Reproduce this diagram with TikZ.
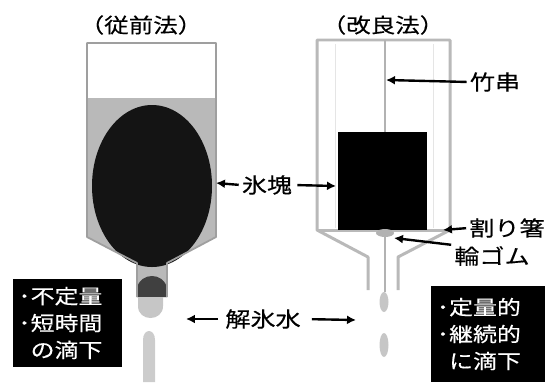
\documentclass[tikz,border=0pt]{standalone}
\usepackage{fontspec}
\setmainfont{Noto Sans CJK JP}[FakeStretch=1.2, FakeBold=0.3]
\usetikzlibrary{arrows.meta}

\tikzset{
  lbl/.style={font=\fontsize{21}{24}\selectfont, inner sep=1pt},
  ttl/.style={font=\fontsize{20.5}{24}\selectfont, inner sep=1pt},
  tag/.style={fill=black, text=white, font=\fontsize{20}{27}\selectfont, align=left, inner sep=0pt},
  arr/.style={-{Latex[length=9pt,width=9pt]}, line width=2.4pt},
  wall/.style={draw=gray!75, line width=1.8pt, line join=round},
  twin/.style={draw=gray!55, line width=3pt, line join=round},
  drop/.style={fill=gray!45},
}

\begin{document}
\begin{tikzpicture}[x=1bp, y=-1bp]
  \useasboundingbox (0,0) rectangle (547,382);

  % --- (従前法) ---
  \node[ttl] (oldT) at (141,25) {（従前法）};
  % water
  \fill[gray!55] (88,98) -- (215,98) -- (215,237) -- (166,263) -- (166,297) -- (138,297) -- (138,263) -- (88,237) -- cycle;
  % ice
  \fill[black!92] (152,186) ellipse [x radius=60, y radius=81];
  % blob in the neck
  \fill[black!75] (137,297) -- (137,288) .. controls (140,272) and (164,272) .. (167,288) -- (167,297) -- cycle;
  \fill[gray!45] (138,297) -- (163,297) -- (163,306) .. controls (163,322) and (138,322) .. (138,306) -- cycle;
  \fill[gray!40] (143,340) .. controls (143,328) and (155,328) .. (155,340) -- (155,382) -- (143,382) -- cycle;
  % container
  \draw[wall] (137,297) -- (137,263) -- (87,237) -- (87,43) -- (216,43) -- (216,237) -- (167,263) -- (167,297);
  \node[tag, minimum width=109, minimum height=88, text width=98] (oldTag) at (67.5,323)
    {･不定量\\･短時間\\\hphantom{･}の滴下};

  % --- (改良法) ---
  \node[ttl] (newT) at (383,25) {（改良法）};
  \draw[gray!20, line width=0.8pt] (335,44) -- (335,228) (433,44) -- (433,228);
  \draw[twin] (368,290) -- (368,257) -- (317,230) -- (317,40) -- (450,40) -- (450,230) -- (398,257) -- (398,290);
  \draw[twin] (317,230) -- (450,230);
  % skewer
  \draw[gray!60, line width=1.2pt] (385,40) -- (385,292);
  \fill[black] (338,132) rectangle (427,230);
  \fill[gray!60] (385,233) ellipse [x radius=9, y radius=4];
  \fill[drop] (384,302) ellipse [x radius=4.5, y radius=10];
  \fill[drop] (384,345) ellipse [x radius=4.5, y radius=12];
  \node[tag, minimum width=114, minimum height=97, text width=102] (newTag) at (488,334)
    {･定量的\\･継続的\\\hphantom{･}に滴下};

  % labels and pointers
  \coordinate (iceL) at (216,183);
  \coordinate (iceR) at (336,186);
  \coordinate (skewer) at (386,80);
  \coordinate (chop) at (443,230);
  \coordinate (band) at (394,238);
  \coordinate (meltL) at (186,319);
  \coordinate (meltR) at (356,320);

  \node[lbl] (ice) at (267,185) {氷塊};
  \node[lbl] (stick) at (495,82) {竹串};
  \node[lbl] (hashi) at (507,228) {割り箸};
  \node[lbl] (gomu) at (492,256) {輪ゴム};
  \node[lbl] (melt) at (263,319) {解氷水};

  \draw[arr, shorten <=2pt] (ice.west) -- (iceL);
  \draw[arr, shorten <=4pt] (ice.east) -- (iceR);
  \draw[arr, shorten <=2pt] (stick.west) -- (skewer);
  \draw[arr, shorten <=2pt] (hashi.west) -- (chop);
  \draw[arr, shorten <=2pt] (gomu.north west) -- (band);
  \draw[arr, shorten <=6pt] (melt.west) -- (meltL);
  \draw[arr, shorten <=10pt] (melt.east) -- (meltR);
\end{tikzpicture}
\end{document}
